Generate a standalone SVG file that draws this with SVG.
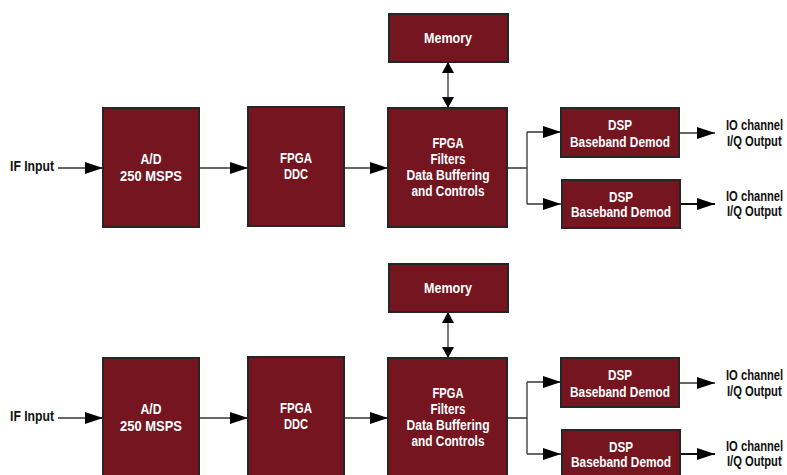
<svg xmlns="http://www.w3.org/2000/svg" width="787" height="475" viewBox="0 0 787 475">
<style>
.box{fill:#741520;stroke:#262626;stroke-width:2}
.t{font-family:"Liberation Sans",Arial,sans-serif;font-weight:bold;font-size:14px;fill:#ffffff;text-anchor:middle;dominant-baseline:central}
.l{font-family:"Liberation Sans",Arial,sans-serif;font-weight:bold;font-size:14px;fill:#111111;dominant-baseline:central}
.c{fill:none;stroke:#333333;stroke-width:1.3}
.c2{fill:none;stroke:#111111;stroke-width:2}
</style>
<defs>
<marker id="ah" markerUnits="userSpaceOnUse" markerWidth="18" markerHeight="12" refX="18" refY="6" orient="auto">
<path d="M0,0 L18,6 L0,12 z" fill="#000"/>
</marker>
<marker id="ahs" markerUnits="userSpaceOnUse" markerWidth="12" markerHeight="12" refX="11" refY="6" orient="auto-start-reverse">
<path d="M0,0 L11,6 L0,12 z" fill="#000"/>
</marker>
</defs>
<rect width="787" height="475" fill="#ffffff"/>

<g id="connectors">
<path class="c" d="M58,168 H103" marker-end="url(#ah)"/>
<path class="c" d="M199,168 H248" marker-end="url(#ah)"/>
<path class="c" d="M344,168 H388" marker-end="url(#ah)"/>
<path class="c" d="M448,62 V108" marker-start="url(#ahs)" marker-end="url(#ahs)"/>
<path class="c" d="M507,168 H527 M527,132 V204"/>
<path class="c" d="M527,132 H561" marker-end="url(#ah)"/>
<path class="c" d="M527,204 H561" marker-end="url(#ah)"/>
<path class="c" d="M679,133 H715" marker-end="url(#ah)"/>
<path class="c2" d="M679,204 H715" marker-end="url(#ah)"/>

<path class="c" d="M58,418 H103" marker-end="url(#ah)"/>
<path class="c" d="M199,418 H248" marker-end="url(#ah)"/>
<path class="c" d="M344,418 H388" marker-end="url(#ah)"/>
<path class="c" d="M448,312 V358" marker-start="url(#ahs)" marker-end="url(#ahs)"/>
<path class="c" d="M507,418 H527 M527,382 V454"/>
<path class="c" d="M527,382 H561" marker-end="url(#ah)"/>
<path class="c" d="M527,454 H561" marker-end="url(#ah)"/>
<path class="c" d="M679,383 H715" marker-end="url(#ah)"/>
<path class="c2" d="M679,454 H715" marker-end="url(#ah)"/>
</g>

<g id="if-input-1"><text class="l" x="10" y="166" textLength="44" lengthAdjust="spacingAndGlyphs">IF Input</text></g>
<g id="ad-1"><rect class="box" x="103" y="108" width="96" height="119"/><text class="t" x="151" y="159" textLength="21" lengthAdjust="spacingAndGlyphs">A/D</text><text class="t" x="151" y="176" textLength="62" lengthAdjust="spacingAndGlyphs">250 MSPS</text></g>
<g id="ddc-1"><rect class="box" x="248" y="107" width="96" height="119"/><text class="t" x="296" y="158" textLength="32" lengthAdjust="spacingAndGlyphs">FPGA</text><text class="t" x="296" y="174" textLength="24" lengthAdjust="spacingAndGlyphs">DDC</text></g>
<g id="memory-1"><rect class="box" x="389" y="14" width="119" height="48"/><text class="t" x="448" y="38" textLength="48" lengthAdjust="spacingAndGlyphs">Memory</text></g>
<g id="fpga-1"><rect class="box" x="388" y="108" width="119" height="119"/><text class="t" x="448" y="143" textLength="31" lengthAdjust="spacingAndGlyphs">FPGA</text><text class="t" x="448" y="159" textLength="35" lengthAdjust="spacingAndGlyphs">Filters</text><text class="t" x="448" y="175" textLength="83" lengthAdjust="spacingAndGlyphs">Data Buffering</text><text class="t" x="448" y="191" textLength="73" lengthAdjust="spacingAndGlyphs">and Controls</text></g>
<g id="dsp-1a"><rect class="box" x="561" y="108" width="118" height="49"/><text class="t" x="620" y="125" textLength="24" lengthAdjust="spacingAndGlyphs">DSP</text><text class="t" x="620" y="142" textLength="100" lengthAdjust="spacingAndGlyphs">Baseband Demod</text></g>
<g id="dsp-1b"><rect class="box" x="562" y="180" width="118" height="48"/><text class="t" x="621" y="197" textLength="24" lengthAdjust="spacingAndGlyphs">DSP</text><text class="t" x="621" y="212" textLength="100" lengthAdjust="spacingAndGlyphs">Baseband Demod</text></g>
<g id="out-1a"><text class="l" transform="translate(726,126) scale(0.8,1)">IO channel</text><text class="l" transform="translate(727,142) scale(0.8,1)">I/Q Output</text></g>
<g id="out-1b"><text class="l" transform="translate(726,197) scale(0.8,1)">IO channel</text><text class="l" transform="translate(727,212) scale(0.8,1)">I/Q Output</text></g>

<g id="if-input-2"><text class="l" x="10" y="416" textLength="44" lengthAdjust="spacingAndGlyphs">IF Input</text></g>
<g id="ad-2"><rect class="box" x="103" y="358" width="96" height="119"/><text class="t" x="151" y="409" textLength="21" lengthAdjust="spacingAndGlyphs">A/D</text><text class="t" x="151" y="426" textLength="62" lengthAdjust="spacingAndGlyphs">250 MSPS</text></g>
<g id="ddc-2"><rect class="box" x="248" y="357" width="96" height="119"/><text class="t" x="296" y="408" textLength="32" lengthAdjust="spacingAndGlyphs">FPGA</text><text class="t" x="296" y="424" textLength="24" lengthAdjust="spacingAndGlyphs">DDC</text></g>
<g id="memory-2"><rect class="box" x="389" y="264" width="119" height="48"/><text class="t" x="448" y="288" textLength="48" lengthAdjust="spacingAndGlyphs">Memory</text></g>
<g id="fpga-2"><rect class="box" x="388" y="358" width="119" height="119"/><text class="t" x="448" y="393" textLength="31" lengthAdjust="spacingAndGlyphs">FPGA</text><text class="t" x="448" y="409" textLength="35" lengthAdjust="spacingAndGlyphs">Filters</text><text class="t" x="448" y="425" textLength="83" lengthAdjust="spacingAndGlyphs">Data Buffering</text><text class="t" x="448" y="441" textLength="73" lengthAdjust="spacingAndGlyphs">and Controls</text></g>
<g id="dsp-2a"><rect class="box" x="561" y="358" width="118" height="49"/><text class="t" x="620" y="375" textLength="24" lengthAdjust="spacingAndGlyphs">DSP</text><text class="t" x="620" y="392" textLength="100" lengthAdjust="spacingAndGlyphs">Baseband Demod</text></g>
<g id="dsp-2b"><rect class="box" x="562" y="430" width="118" height="48"/><text class="t" x="621" y="447" textLength="24" lengthAdjust="spacingAndGlyphs">DSP</text><text class="t" x="621" y="462" textLength="100" lengthAdjust="spacingAndGlyphs">Baseband Demod</text></g>
<g id="out-2a"><text class="l" transform="translate(726,376) scale(0.8,1)">IO channel</text><text class="l" transform="translate(727,392) scale(0.8,1)">I/Q Output</text></g>
<g id="out-2b"><text class="l" transform="translate(726,447) scale(0.8,1)">IO channel</text><text class="l" transform="translate(727,462) scale(0.8,1)">I/Q Output</text></g>
</svg>
